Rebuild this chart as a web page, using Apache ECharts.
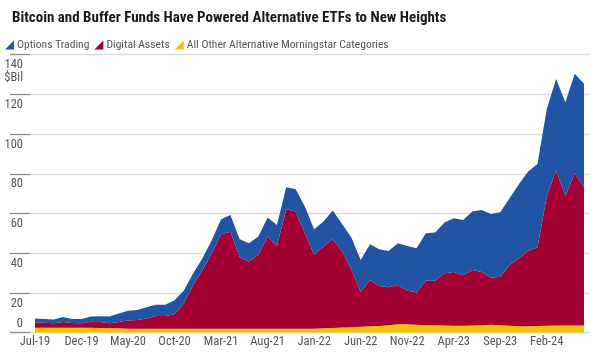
<!DOCTYPE html>
<html><head><meta charset="utf-8">
<script src="https://cdn.jsdelivr.net/npm/echarts@6/dist/echarts.min.js"></script>
<style>html,body{margin:0;padding:0;background:#fff}#c{width:595px;height:358px}</style>
</head><body><div id="c"></div>
<script>
const categories = [
 "Jul-19","Aug-19","Sep-19","Oct-19","Nov-19","Dec-19","Jan-20","Feb-20","Mar-20","Apr-20","May-20","Jun-20",
 "Jul-20","Aug-20","Sep-20","Oct-20","Nov-20","Dec-20","Jan-21","Feb-21","Mar-21","Apr-21","May-21","Jun-21",
 "Jul-21","Aug-21","Sep-21","Oct-21","Nov-21","Dec-21","Jan-22","Feb-22","Mar-22","Apr-22","May-22","Jun-22",
 "Jul-22","Aug-22","Sep-22","Oct-22","Nov-22","Dec-22","Jan-23","Feb-23","Mar-23","Apr-23","May-23","Jun-23",
 "Jul-23","Aug-23","Sep-23","Oct-23","Nov-23","Dec-23","Jan-24","Feb-24","Mar-24","Apr-24","May-24","Jun-24"
];
const allOther = [
 2.5,2.5,2.5,2.5,2.5,2.5,2.5,2.4,2.3,2.2,
 2.0,2.0,2.0,2.0,2.0,2.0,2.0,2.0,2.0,2.0,
 2.0,2.0,2.0,2.0,2.0,2.0,2.0,2.0,2.0,2.0,
 2.0,2.2,2.4,2.6,2.8,3.0,3.2,3.4,3.8,4.2,
 4.2,4.0,3.8,3.7,3.6,3.5,3.5,3.6,3.8,4.0,
 3.8,3.5,3.3,3.3,3.4,3.5,3.6,3.6,3.6,3.6
];
const digitalAssets = [
 2.7,2.5,2.2,2.9,2.4,2.2,3.0,3.0,2.4,3.2,
 4.2,4.4,5.2,6.4,6.4,7.3,12.8,22.0,29.6,38.0,
 47.6,48.9,36.0,33.8,37.2,46.4,41.7,60.2,59.0,48.1,
 37.2,41.2,44.7,38.4,29.0,17.5,23.4,20.1,19.1,19.8,
 17.0,16.2,22.3,22.5,26.3,27.1,25.4,28.0,26.8,23.7,
 24.4,30.6,34.2,38.0,39.5,65.1,78.1,65.3,76.7,69.7
];
const optionsTrading = [
 1.9,1.9,2.0,2.5,2.0,2.2,2.6,2.9,3.4,4.3,
 4.9,5.0,5.6,5.7,5.7,7.0,6.4,5.9,5.9,6.7,
 7.5,8.4,9.1,9.2,9.2,9.6,10.6,11.1,11.4,13.4,
 12.9,12.6,14.4,13.7,16.2,16.1,17.9,18.5,18.3,21.0,
 22.5,22.3,24.0,24.2,25.6,27.0,27.9,29.4,31.2,32.1,
 32.5,33.6,37.3,39.9,42.1,44.0,46.0,47.1,50.1,52.1
];
const yTicks = [0,20,40,60,80,100,120,140];
const seriesNames = ["Options Trading","Digital Assets","All Other Alternative Morningstar Categories"];

const FONT = '"Roboto Condensed","Liberation Sans Narrow","DejaVu Sans Condensed",sans-serif';
const colors = {blue:'#2155a3', red:'#a50034', yellow:'#f5c200'};
const tri = 'path://M10,0 L10,10 L0,10 Z';

function draw(){
const chart = echarts.init(document.getElementById('c'), null, {renderer:'canvas'});
const gTop = 54.7, gBottom = 25.3;
chart.setOption({
  animation:false,
  title:{text:'Bitcoin and Buffer Funds Have Powered Alternative ETFs to New Heights',
    left:7, top:6,
    textStyle:{fontFamily:FONT, fontWeight:'bold', fontSize:15, color:'#1a1a1a'}},
  legend:{
    data:[
      {name:seriesNames[0], icon:tri, itemStyle:{color:colors.blue}},
      {name:seriesNames[1], icon:tri, itemStyle:{color:colors.red}},
      {name:seriesNames[2], icon:tri, itemStyle:{color:colors.yellow}}
    ],
    left:0, top:34, itemWidth:9, itemHeight:9, itemGap:5,
    textStyle:{fontFamily:FONT, fontSize:11.6, color:'#555', padding:[0,0,0,-2]}
  },
  grid:[
    {left:30, right:5, top:gTop, bottom:gBottom},
    {left:35, right:11, top:gTop, bottom:gBottom}
  ],
  xAxis:[
    {gridIndex:0, type:'value', min:0, max:1, show:false},
    {gridIndex:1, type:'category', data:categories, boundaryGap:false,
     axisLine:{show:false}, axisTick:{show:false},
     axisLabel:{interval:4, margin:3, fontFamily:FONT, fontSize:12.5, color:'#555'}}
  ],
  yAxis:[
    {gridIndex:0, type:'value', position:'left', min:yTicks[0], max:yTicks[yTicks.length-1], interval:20, offset:7,
     axisLine:{show:false},
     axisTick:{show:true, length:20, lineStyle:{color:'#8a8a8a', width:1.3}},
     splitLine:{show:true, lineStyle:{color:'#dcdcdc', width:1.3}},
     axisLabel:{margin:0, verticalAlign:'top', padding:[4,0,0,0], align:'right',
       fontFamily:FONT, fontSize:12.5, color:'#555', lineHeight:13,
       formatter:v => v===0 ? '' : (v===140 ? '140\n$Bil' : String(v))}},
    {gridIndex:0, type:'value', position:'left', min:yTicks[0], max:yTicks[yTicks.length-1], interval:20, offset:7,
     axisLine:{show:false}, axisTick:{show:false}, splitLine:{show:false},
     axisLabel:{margin:0, verticalAlign:'bottom', padding:[0,0,2,0], align:'right',
       fontFamily:FONT, fontSize:12.5, color:'#555',
       formatter:v => v===0 ? '0' : ''}},
    {gridIndex:1, type:'value', min:yTicks[0], max:yTicks[yTicks.length-1], show:false}
  ],
  series:[
    {name:seriesNames[2], type:'line', stack:'a', xAxisIndex:1, yAxisIndex:2, data:allOther,
     symbol:'none', lineStyle:{width:0}, itemStyle:{color:colors.yellow},
     areaStyle:{color:colors.yellow, opacity:1}},
    {name:seriesNames[1], type:'line', stack:'a', xAxisIndex:1, yAxisIndex:2, data:digitalAssets,
     symbol:'none', lineStyle:{width:0}, itemStyle:{color:colors.red},
     areaStyle:{color:colors.red, opacity:1}},
    {name:seriesNames[0], type:'line', stack:'a', xAxisIndex:1, yAxisIndex:2, data:optionsTrading,
     symbol:'none', lineStyle:{width:0}, itemStyle:{color:colors.blue},
     areaStyle:{color:colors.blue, opacity:1}}
  ]
});
}
let done = false;
function go(){ if(!done){ done = true; draw(); } }
if (document.fonts && document.fonts.load) {
  Promise.all([
    document.fonts.load('bold 15px "Roboto Condensed"'),
    document.fonts.load('12px "Roboto Condensed"')
  ]).then(go, go);
  setTimeout(go, 1500);
} else { go(); }
</script></body></html>
